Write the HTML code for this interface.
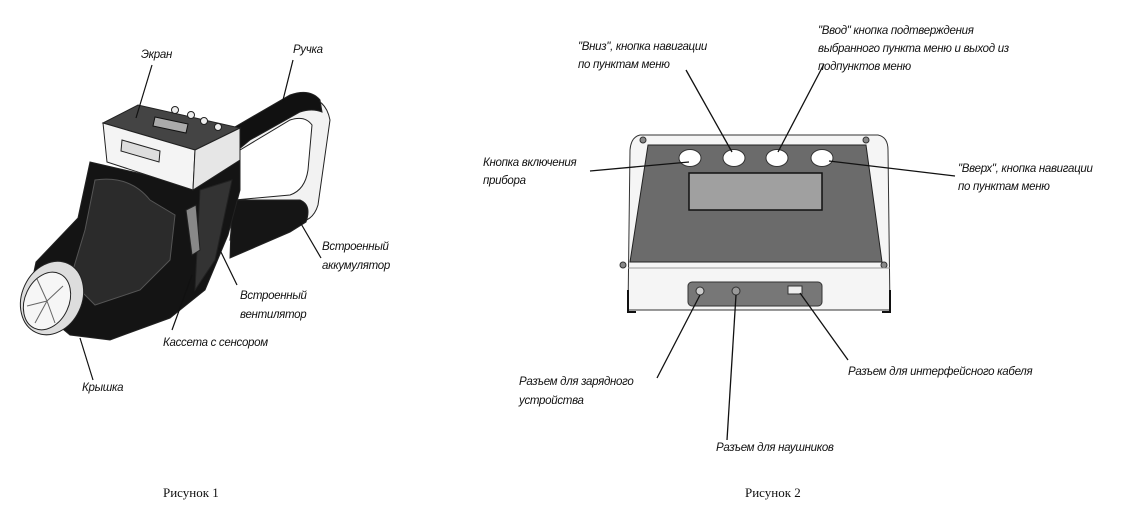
<!DOCTYPE html>
<html><head><meta charset="utf-8">
<style>
html,body{margin:0;padding:0;background:#fff;}
svg{display:block;}
.l{font-family:"Liberation Sans","DejaVu Sans",sans-serif;font-style:italic;font-size:11.5px;fill:#111;letter-spacing:-0.3px;}
.c{font-family:"Liberation Serif",serif;font-size:13px;fill:#111;}
</style></head>
<body>
<svg width="1132" height="519" viewBox="0 0 1132 519" xmlns="http://www.w3.org/2000/svg">
<!-- ===== Figure 1 device ===== -->
<g stroke="#222" stroke-width="1">
  <path d="M240,130 L300,98 Q325,95 330,120 L318,205 Q312,225 290,222 L230,240 L235,200 L290,195 Q305,190 308,170 L312,125 Q305,115 290,120 L240,150 Z" fill="#f2f2f2"/>
  <path d="M233,128 L290,95 Q310,88 320,100 L322,112 Q312,108 300,112 L250,140 L238,150 Z" fill="#111"/>
  <path d="M232,200 L300,200 Q312,205 306,222 L290,232 L230,258 Z" fill="#151515"/>
  <path d="M90,162 L190,185 L240,160 L240,190 L228,235 L205,290 L170,318 L110,340 L70,335 L28,300 L36,262 L78,218 Z" fill="#141414"/>
  <path d="M95,180 Q130,175 150,200 L175,215 L170,260 L140,290 L95,305 L70,280 L85,230 Z" fill="#2b2b2b" stroke="#555"/>
  <path d="M200,190 L232,180 L215,260 L195,290 Z" fill="#333"/>
  <!-- head block -->
  <path d="M103,123 L138,105 L240,128 L195,150 Z" fill="#444"/>
  <path d="M103,123 L195,150 L193,190 L107,162 Z" fill="#f4f4f4"/>
  <path d="M195,150 L240,128 L240,160 L193,190 Z" fill="#e6e6e6"/>
  <path d="M155,117 L188,124 L186,133 L153,126 Z" fill="#aaa" stroke="#111"/>
  <circle cx="175" cy="110" r="3.5" fill="#eee"/>
  <circle cx="191" cy="115" r="3.5" fill="#eee"/>
  <circle cx="204" cy="121" r="3.5" fill="#eee"/>
  <circle cx="218" cy="127" r="3.5" fill="#eee"/>
  <path d="M122,140 L160,151 L159,162 L121,151 Z" fill="#ddd"/>
  <ellipse cx="52" cy="298" rx="30" ry="38" transform="rotate(25 52 298)" fill="#ddd"/>
  <ellipse cx="47" cy="301" rx="22" ry="30" transform="rotate(25 47 301)" fill="#f6f6f6"/>
  <path d="M47,301 L37,279 M47,301 L63,286 M47,301 L27,306 M47,301 L55,323 M47,301 L35,323" stroke="#666"/>
  <path d="M186,210 L196,205 L200,250 L192,255 Z" fill="#888"/>
</g>
<g stroke="#111" stroke-width="1.2">
  <line x1="152" y1="65" x2="136" y2="118"/>
  <line x1="293" y1="60" x2="283" y2="100"/>
  <line x1="321" y1="258" x2="300" y2="222"/>
  <line x1="237" y1="285" x2="219" y2="248"/>
  <line x1="172" y1="330" x2="192" y2="275"/>
  <line x1="93" y1="380" x2="80" y2="338"/>
</g>
<text class="l" x="141" y="58">Экран</text>
<text class="l" x="293" y="53">Ручка</text>
<text class="l" x="322" y="250">Встроенный</text>
<text class="l" x="322" y="269">аккумулятор</text>
<text class="l" x="240" y="299">Встроенный</text>
<text class="l" x="240" y="318">вентилятор</text>
<text class="l" x="163" y="346">Кассета с сенсором</text>
<text class="l" x="82" y="391">Крышка</text>
<text class="c" x="163" y="497">Рисунок 1</text>

<!-- ===== Figure 2 panel ===== -->
<g stroke="#333" stroke-width="1">
  <path d="M640,135 L878,135 Q888,137 888,150 L890,310 L628,310 L630,150 Q631,137 640,135 Z" fill="#f5f5f5"/>
  <path d="M648,145 L866,145 L882,262 L630,262 Z" fill="#6b6b6b" stroke="#222"/>
  <rect x="689" y="173" width="133" height="37" fill="#a0a0a0" stroke="#111" stroke-width="1.5"/>
  <ellipse cx="690" cy="158" rx="11" ry="8.5" fill="#fff"/>
  <ellipse cx="734" cy="158" rx="11" ry="8.5" fill="#fff"/>
  <ellipse cx="777" cy="158" rx="11" ry="8.5" fill="#fff"/>
  <ellipse cx="822" cy="158" rx="11" ry="8.5" fill="#fff"/>
  <circle cx="643" cy="140" r="3" fill="#888"/>
  <circle cx="866" cy="140" r="3" fill="#888"/>
  <circle cx="623" cy="265" r="3" fill="#888"/>
  <circle cx="884" cy="265" r="3" fill="#888"/>
  <path d="M628,268 L890,268" stroke="#999"/>
  <rect x="688" y="282" width="134" height="24" rx="4" fill="#777"/>
  <circle cx="700" cy="291" r="4" fill="#ccc"/>
  <circle cx="736" cy="291" r="4" fill="#999"/>
  <rect x="788" y="286" width="14" height="8" fill="#eee"/>
</g>
<path d="M628,290 L628,312 L636,312" stroke="#111" stroke-width="2" fill="none"/>
<path d="M890,290 L890,312 L882,312" stroke="#111" stroke-width="2" fill="none"/>
<g stroke="#111" stroke-width="1.3">
  <line x1="686" y1="70" x2="732" y2="152"/>
  <line x1="824" y1="64" x2="778" y2="152"/>
  <line x1="590" y1="171" x2="689" y2="162"/>
  <line x1="829" y1="161" x2="955" y2="176"/>
  <line x1="700" y1="295" x2="657" y2="378"/>
  <line x1="736" y1="295" x2="727" y2="440"/>
  <line x1="800" y1="293" x2="848" y2="360"/>
</g>
<text class="l" x="578" y="50">"Вниз", кнопка навигации</text>
<text class="l" x="578" y="68">по пунктам меню</text>
<text class="l" x="818" y="34">"Ввод" кнопка подтверждения</text>
<text class="l" x="818" y="52">выбранного пункта меню и выход из</text>
<text class="l" x="818" y="70">подпунктов меню</text>
<text class="l" x="483" y="166">Кнопка включения</text>
<text class="l" x="483" y="184">прибора</text>
<text class="l" x="958" y="172">"Вверх", кнопка навигации</text>
<text class="l" x="958" y="190">по пунктам меню</text>
<text class="l" x="519" y="385">Разъем для зарядного</text>
<text class="l" x="519" y="404">устройства</text>
<text class="l" x="716" y="451">Разъем для наушников</text>
<text class="l" x="848" y="375">Разъем для интерфейсного кабеля</text>
<text class="c" x="745" y="497">Рисунок 2</text>
</svg>
</body></html>
